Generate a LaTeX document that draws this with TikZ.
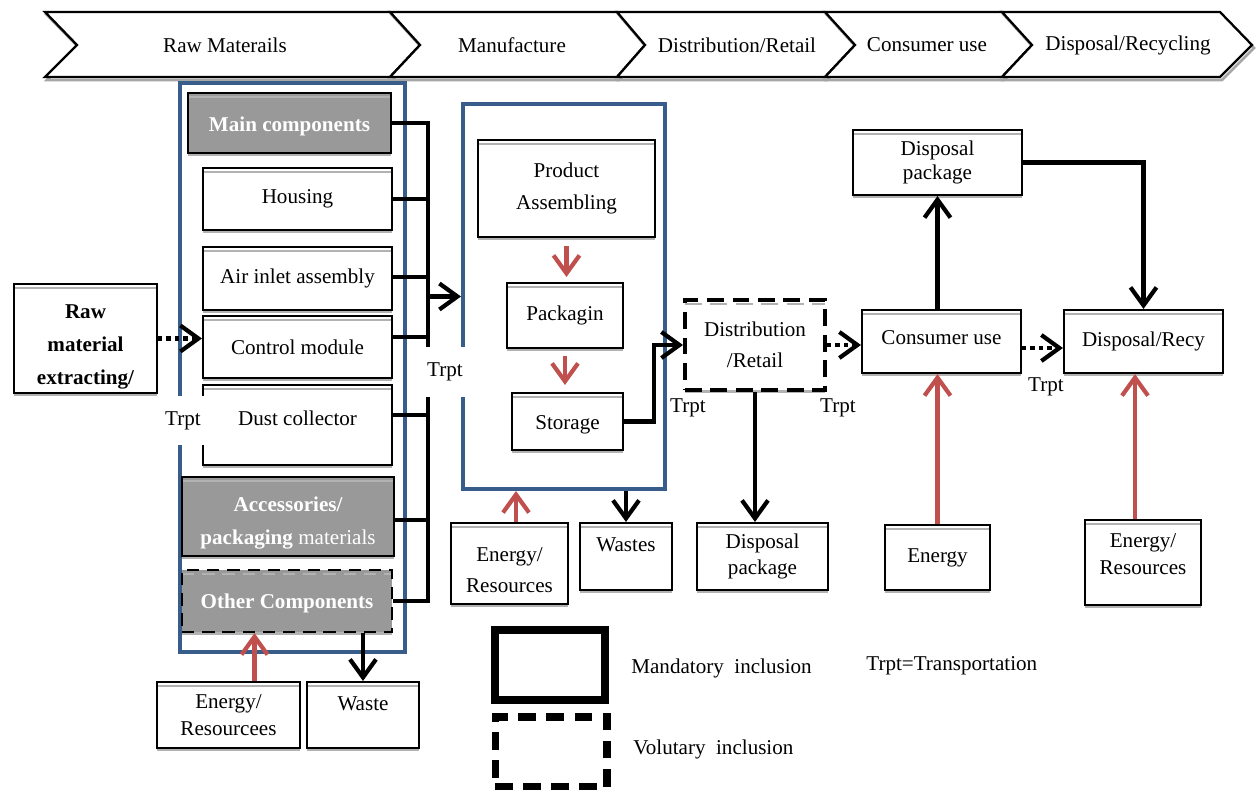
\documentclass[tikz,border=0pt]{standalone}
\usepackage{fontspec}
\setmainfont{Liberation Serif}
\usetikzlibrary{arrows.meta,shadows,positioning}

\definecolor{grpblue}{RGB}{56,93,138}
\definecolor{arrred}{RGB}{192,80,77}
\definecolor{boxgray}{RGB}{153,153,153}

\tikzset{
  box/.style={draw, line width=1.2pt, fill=white, inner sep=2pt, align=center,
    font=\fontsize{12}{15}\selectfont,
    drop shadow={shadow xshift=0pt, shadow yshift=-1.8pt, fill=black!30, opacity=1},
    path picture={\draw[black!30, line width=1.2pt]
      ([yshift=-2.3pt]path picture bounding box.north west) --
      ([yshift=-2.3pt]path picture bounding box.north east);}},
  lh/.style={font=\fontsize{12}{#1}\selectfont},
  graybox/.style={box, fill=boxgray, text=white, font=\fontsize{12}{19}\selectfont\bfseries},
  optbox/.style={dash pattern=on 7pt off 4.5pt},
  group/.style={draw=grpblue, line width=2.3pt},
  arr/.style={line width=2.4pt, -{Straight Barb[length=0.36cm,width=0.52cm]}},
  redarr/.style={arr, draw=arrred},
  dotarr/.style={arr, dash pattern=on 2.4pt off 2.4pt},
  bus/.style={line width=2.3pt},
  trpt/.style={font=\fontsize{12}{14}\selectfont, inner sep=1pt},
}

\begin{document}
\begin{tikzpicture}[x=0.02cm, y=-0.02cm]
\useasboundingbox (0,0) rectangle (1259,790);

% life cycle stages
\foreach \a/\b/\c/\d in {45/77/390/420, 390/420/617/645, 617/645/825/855, 825/855/1002/1032, 1002/1032/1220/1252}{
  \draw[black!35, line width=1.5pt, xshift=0.04cm, yshift=-0.06cm]
    (\a,12) -- (\c,12) -- (\d,45) -- (\c,77) -- (\a,77) -- (\b,45) -- cycle;
  \draw[fill=white, line width=1.3pt]
    (\a,12) -- (\c,12) -- (\d,45) -- (\c,77) -- (\a,77) -- (\b,45) -- cycle;
}
\foreach \x/\t [count=\i] in {225/{Raw Materails}, 512/{Manufacture}, 737/{Distribution/Retail}, 927/{Consumer use}, 1128/{Disposal/Recycling}}
  \node[lh=14] (phase\i) at (\x,45) {\t};

% raw materials
\node[group, minimum width=4.5cm, minimum height=11.38cm] (grp1) at (292.5,367.5) {};
\node[graybox, minimum width=4.06cm, minimum height=1.2cm] (maincomp) at (289.5,123) {\raisebox{-0.06cm}[\height][\depth]{Main components}};
\node[box, minimum width=3.78cm, minimum height=1.24cm] (housing) at (297.5,199) {Housing};
\node[box, minimum width=3.78cm, minimum height=1.26cm] (airinlet) at (297.5,278.5) {Air inlet assembly};
\node[box, minimum width=3.78cm, minimum height=1.24cm] (control) at (297.5,347) {Control module};
\node[box, minimum width=3.78cm, minimum height=1.6cm] (dust) at (297.5,425) {\raisebox{0.14cm}[\height][\depth]{Dust collector}};
\node[graybox, minimum width=4.24cm, minimum height=1.58cm] (accessories) at (288,516.5)
  {\rule{0pt}{0.56cm}Accessories/\\packaging {\mdseries materials}};
\node[graybox, optbox, minimum width=4.2cm, minimum height=1.24cm] (othercomp) at (287,601) {\raisebox{-0.04cm}[\height][\depth]{Other Components}};
\node[box, lh=15, minimum width=2.86cm, minimum height=1.32cm] (energyL) at (228.5,715) {Energy/\\Resourcees};
\node[box, lh=13, minimum width=2.24cm, minimum height=1.32cm] (wasteL) at (363,715) {Waste\\\mbox{}};
\node[box, font=\fontsize{12}{18.8}\selectfont\bfseries, minimum width=2.86cm, minimum height=2.18cm]
  (rawext) at (85.5,338.5) {\rule{0pt}{0.62cm}Raw\\material\\extracting/};

% manufacture
\node[group, minimum width=4.04cm, minimum height=7.7cm] (grp2) at (564,296.5) {};
\node[box, lh=18.2, minimum width=3.54cm, minimum height=1.94cm] (assembling) at (566.5,188.5) {Product\\Assembling};
\node[box, minimum width=2.32cm, minimum height=1.3cm] (packagin) at (565,315.5) {Packagin};
\node[box, minimum width=2.22cm, minimum height=1.14cm] (storage) at (567.5,421.5) {\raisebox{-0.06cm}[\height][\depth]{Storage}};
\node[box, lh=17.6, minimum width=2.34cm, minimum height=1.62cm] (energyM) at (509.5,563.5) {\rule{0pt}{0.54cm}Energy/\\Resources};
\node[box, lh=13, minimum width=1.84cm, minimum height=1.34cm] (wastesM) at (626,556.5) {Wastes\\\mbox{}};

% distribution, use, disposal
\node[box, lh=17.6, line width=2.3pt, dash pattern=on 9.5pt off 5pt, minimum width=2.8cm, minimum height=1.8cm]
  (distrib) at (755,345) {Distribution\\/Retail};
\node[box, lh=14.8, minimum width=2.62cm, minimum height=1.34cm] (disposalM) at (762.5,556.5) {Disposal\\package};
\node[box, minimum width=3.18cm, minimum height=1.26cm] (consumer) at (941.5,341.5) {\raisebox{0.08cm}[\height][\depth]{Consumer use}};
\node[box, lh=13.7, minimum width=3.38cm, minimum height=1.3cm] (disptop) at (937.5,162.5) {Disposal\\package};
\node[box, minimum width=3.18cm, minimum height=1.26cm] (disprecy) at (1143.5,341.5) {Disposal/Recy};
\node[box, minimum width=2.1cm, minimum height=1.3cm] (energyC) at (937.5,557.5) {Energy};
\node[box, lh=15.4, minimum width=2.32cm, minimum height=1.7cm] (energyR) at (1143,562.5) {Energy/\\Resources\\[-0.2cm]\mbox{}};

% legend
\node[draw, line width=4.5pt, minimum width=2.2cm, minimum height=1.4cm] (legsolid) at (550,665) {};
\node[draw, line width=4pt, dash pattern=on 10pt off 6pt, minimum width=2.24cm, minimum height=1.4cm] (legdash) at (551,752) {};
\node[lh=14, anchor=west, inner sep=0pt] (legmand) at (631,668) {Mandatory~~inclusion};
\node[lh=14, anchor=west, inner sep=0pt] (legvol) at (633,749) {Volutary~~inclusion};
\node[lh=14, anchor=west, inner sep=0pt] (legtrpt) at (866,666) {Trpt=Transportation};

% connectors
\coordinate (busx) at (428,123);
\draw[bus] (maincomp.east) -- (busx) |- (othercomp.east);
\foreach \n/\s in {housing/0, airinlet/0.03, control/0.2, dust/0.2, accessories/-0.07}
  \draw[bus] ([yshift=\s cm]\n.east) -- ([yshift=\s cm]\n.east -| busx);
\draw[arr] (busx |- grp2.west) -- (grp2.west);
\draw[dotarr] (rawext.east) -- (rawext.east -| control.west);
\draw[redarr, shorten <=0.16cm, shorten >=0.1cm] (assembling.south) -- (assembling.south |- packagin.north);
\draw[redarr, shorten <=0.14cm, shorten >=0.14cm] (packagin.south) -- (packagin.south |- storage.north);
\draw[arr] (storage.east) -- ++(30,0) |- (distrib.west);
\draw[dotarr] (distrib.east) -- (distrib.east -| consumer.west);
\draw[arr] (distrib.south) -- (distrib.south |- disposalM.north);
\draw[arr] (disptop.south |- consumer.north) -- (disptop.south);
\draw[arr] (disptop.east) -| (disprecy.north);
\draw[dotarr] ([yshift=-0.13cm]consumer.east) -- ([yshift=-0.13cm]consumer.east -| disprecy.west);
\draw[redarr] (energyC.north) -- (energyC.north |- consumer.south);
\draw[redarr] ([xshift=-0.16cm]energyR.north) -- ([xshift=-0.16cm]energyR.north |- disprecy.south);
\draw[redarr] ([xshift=0.13cm]energyM.north) -- ([xshift=0.13cm]energyM.north |- grp2.south);
\draw[arr] (wastesM.north |- grp2.south) -- (wastesM.north);
\draw[redarr] ([xshift=0.52cm]energyL.north) -- ([xshift=0.52cm]energyL.north |- othercomp.south);
\draw[arr] (wasteL.north |- othercomp.south) -- (wasteL.north);

% transport labels
\node[trpt, fill=white, minimum width=0.86cm, minimum height=1cm] (trptA) at (183,420.5) {Trpt};
\node[trpt, fill=white, minimum width=0.9cm, minimum height=1cm] (trptB) at (445,372) {Trpt};
\node[trpt] (trptC) at (688,408) {Trpt};
\node[trpt] (trptD) at (838,408) {Trpt};
\node[trpt] (trptE) at (1046,387) {Trpt};
\end{tikzpicture}
\end{document}
